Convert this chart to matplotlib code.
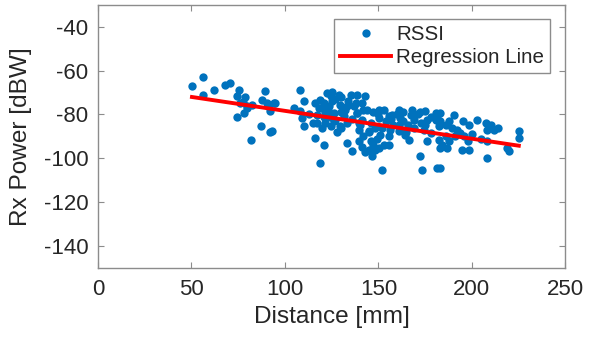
import matplotlib
matplotlib.use("Agg")
import matplotlib.pyplot as plt
import numpy as np

plt.rcParams['font.family'] = ['Liberation Sans', 'DejaVu Sans']

distance_mm = [
    50.3, 56.0, 56.0, 61.9, 67.8, 70.8, 75.3, 74.4, 78.5, 76.2, 79.7, 82.4, 78.0, 74.4,
    89.6, 87.8, 90.5, 92.2, 94.0, 87.4, 92.2, 81.9, 77.5, 80.0, 91.0,
    94.9, 93.1, 108.3, 110.1, 104.7, 108.3, 109.2, 110.1, 116.3, 119.0, 120.8, 122.6,
    124.4, 128.8, 129.7, 135.1, 136.9, 117.2, 121.7, 126.1, 117.2, 121.7, 124.4, 129.7,
    116.3, 120.8, 119.0, 133.3, 136.0, 138.6, 139.5, 119.9, 123.5, 127.0, 131.5, 125.3, 132.4,
    138.6, 143.1, 141.3, 144.0, 138.6, 141.3, 139.5, 139.5, 144.9, 148.4, 145.8, 144.9,
    146.7, 150.2, 152.9, 155.6, 155.6, 151.1, 150.2, 150.2, 155.6, 157.4, 160.9, 161.8,
    160.9, 160.9, 164.5, 167.2, 169.0, 169.0, 166.3, 175.2, 176.1, 180.6, 180.6, 182.4,
    174.3, 177.9, 176.1, 182.4, 183.2, 172.5, 181.5, 173.4, 152.0,
    183.2, 183.2, 190.3, 189.5, 185.9, 184.1, 186.8, 191.2, 193.9, 194.8, 198.4, 198.4,
    202.8, 207.3, 208.2, 211.8, 208.2, 208.2, 218.9, 219.8, 225.1, 225.1, 183.2,
    123.0, 127.0, 130.0, 134.0, 126.0, 133.0, 128.0, 121.0, 118.0, 124.0,
    142.0, 147.0, 143.0, 149.0, 146.0, 152.0, 154.0, 158.0, 163.0, 166.0,
    171.0, 173.0, 178.0, 186.0, 188.0, 192.0, 196.0, 200.0, 205.0, 113.0,
    125.0, 130.0, 133.0, 138.0, 142.0, 147.0, 150.0, 153.0, 157.0, 160.0,
    163.0, 168.0, 172.0, 140.0, 145.0, 148.0, 141.0, 156.0, 165.0, 175.0,
    182.0, 195.0, 188.0, 210.0, 214.0, 198.0, 120.0, 115.0, 136.0, 130.0,
]
rx_power_dbw = [
    -67.0, -63.0, -71.0, -68.8, -66.5, -65.7, -68.8, -71.5, -72.1, -74.8, -76.3, -75.6, -79.4, -81.3,
    -69.5, -73.3, -74.8, -78.6, -74.8, -85.1, -88.2, -91.5, -74.5, -77.0, -76.0,
    -74.8, -87.7, -68.8, -74.1, -77.1, -78.6, -81.7, -85.4, -74.8, -73.3, -74.8, -70.3,
    -71.8, -71.0, -75.6, -71.0, -76.3, -80.1, -79.4, -79.4, -83.9, -83.9, -85.4, -85.4,
    -90.7, -93.8, -102.1, -93.0, -96.8, -79.4, -83.9, -77.1, -76.3, -82.4, -80.9, -74.1, -77.9,
    -71.0, -71.8, -74.8, -77.9, -79.4, -82.4, -87.0, -92.3, -87.7, -86.2, -92.3, -96.0,
    -99.1, -95.3, -93.8, -93.8, -90.0, -89.2, -77.9, -81.7, -80.9, -80.1, -77.9, -81.7,
    -84.7, -87.7, -89.2, -80.1, -82.4, -86.2, -91.5, -78.6, -82.4, -79.4, -82.4, -85.4,
    -87.0, -88.5, -92.3, -91.5, -95.3, -99.1, -104.4, -105.1, -105.1,
    -79.4, -83.2, -80.1, -86.2, -90.0, -93.8, -95.3, -90.0, -88.5, -96.0, -96.0, -84.7,
    -82.4, -83.9, -87.0, -87.0, -92.3, -99.8, -95.3, -96.8, -87.7, -90.7, -104.4,
    -78.0, -73.0, -79.0, -74.0, -83.0, -84.0, -88.0, -81.0, -77.0, -81.0,
    -90.0, -94.0, -97.0, -91.0, -84.0, -86.0, -83.0, -85.0, -79.0, -85.0,
    -80.0, -84.0, -81.0, -85.0, -92.0, -87.0, -90.0, -89.0, -91.0, -80.0,
    -70.0, -72.0, -76.0, -75.0, -78.0, -79.0, -80.0, -78.0, -82.0, -80.0,
    -83.0, -78.0, -79.0, -85.0, -88.0, -96.0, -95.0, -87.0, -88.0, -85.0,
    -80.0, -83.0, -83.0, -85.0, -86.0, -92.0, -86.0, -84.0, -82.0, -86.0,
]

# Regression line coefficients: y = slope * x + intercept
reg_slope = -0.127
reg_intercept = -65.66

x_ticks = [0, 50, 100, 150, 200, 250]
y_ticks = [-140, -120, -100, -80, -60, -40]

fig = plt.figure(figsize=(5.97, 3.38), dpi=100)
ax = fig.add_axes([0.164, 0.207, 0.783, 0.779])

ax.plot(distance_mm, rx_power_dbw, 'o', color='#0072BD', markersize=6.0,
        markeredgewidth=0, label='RSSI', zorder=2)
xr = np.array([min(distance_mm), max(distance_mm)])
ax.plot(xr, reg_slope * xr + reg_intercept, '-', color='#FF0000', linewidth=2.8,
        label='Regression Line', zorder=3)

ax.set_xlim(0, 250)
ax.set_ylim(-150, -30)
ax.set_xticks(x_ticks)
ax.set_yticks(y_ticks)
ax.set_yticklabels([str(v) for v in y_ticks])

spine_col = '#8c8c8c'
text_col = '#262626'
for s in ax.spines.values():
    s.set_color(spine_col)
    s.set_linewidth(1.0)
ax.tick_params(direction='in', length=4, width=0.8, color=spine_col,
               labelsize=16, labelcolor=text_col, top=True, right=True)
ax.tick_params(axis='y', pad=7)
ax.tick_params(axis='x', pad=8)

ax.set_xlabel('Distance [mm]', fontsize=17.6, color=text_col, labelpad=4)
ax.set_ylabel('Rx Power [dBW]', fontsize=17.6, color=text_col, labelpad=8)

leg = ax.legend(loc='upper right', bbox_to_anchor=(0.968, 0.946), borderaxespad=0,
                fontsize=14.8, handlelength=2.5, handletextpad=0.25, labelspacing=0.2,
                borderpad=0.3, fancybox=False, framealpha=1, edgecolor=spine_col,
                markerscale=1.0)
leg.get_frame().set_linewidth(1.0)
for t in leg.get_texts():
    t.set_color(text_col)

fig.savefig('out.png', dpi=100)
